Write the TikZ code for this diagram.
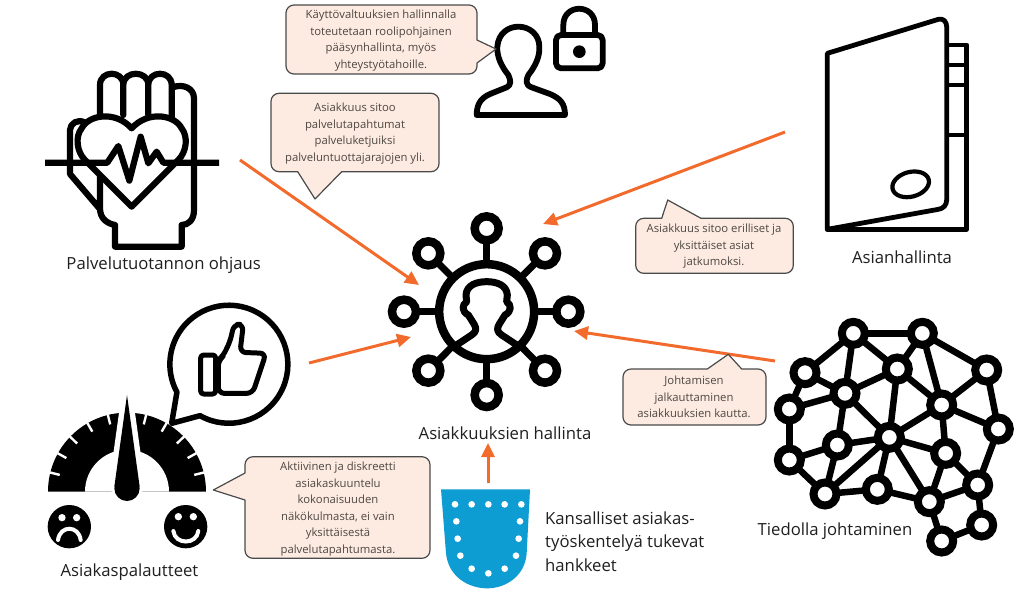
\documentclass[tikz,border=0pt]{standalone}
\usepackage{fontspec}
\setmainfont{Open Sans}
\usetikzlibrary{arrows.meta}
\definecolor{arrowc}{HTML}{F26B2C}
\definecolor{callfill}{HTML}{FDEBE1}
\definecolor{callline}{HTML}{4A4A4A}
\definecolor{calltext}{HTML}{4D4642}
\definecolor{shieldc}{HTML}{0D9DD3}
\tikzset{
  flow/.style={draw=arrowc,line width=3pt,-{Triangle[length=14pt,width=13pt]}},
  callout/.style={draw=callline,fill=callfill,line width=1.2pt,line join=round},
  calltxt/.style={text=calltext,align=center,inner sep=0pt,font=\fontsize{11.3}{16.5}\selectfont},
  label/.style={text=black!88,inner sep=0pt,font=\fontsize{16.7}{23.5}\selectfont},
  icon/.style={draw=black,line join=round,line cap=round},
  hubsat/.style={circle,draw=black,line width=8.5pt,minimum size=24pt,inner sep=0pt,outer sep=0pt},
  hubcore/.style={circle,draw=black,line width=8.5pt,minimum size=95pt,inner sep=0pt,outer sep=0pt},
  spoke/.style={draw=black,line width=7pt},
  netnode/.style={circle,draw=black,fill=white,line width=8pt,minimum size=23pt,inner sep=0pt,outer sep=0pt},
  netedge/.style={draw=black,line width=6.5pt},
}
\begin{document}
\begin{tikzpicture}[x=1pt,y=-1pt]
\useasboundingbox (0,0) rectangle (1024,595);

% hub
\begin{scope}[shift={(370,200)},x=1/3pt,y=-1/3pt]
  \node[hubcore] (hub) at (350,335) {};
  \node[hubsat] (s1) at (350,85) {};
  \node[hubsat] (s2) at (525,160) {};
  \node[hubsat] (s3) at (595,335) {};
  \node[hubsat] (s4) at (525,512) {};
  \node[hubsat] (s5) at (350,585) {};
  \node[hubsat] (s6) at (175,512) {};
  \node[hubsat] (s7) at (102,335) {};
  \node[hubsat] (s8) at (175,160) {};
  \foreach \k in {1,...,8} \draw[spoke] (hub) -- (s\k);
  \draw[icon,line width=7pt] (255,438) -- (305,405) .. controls (320,395) and (320,385) .. (312,372) -- (295,345) .. controls (275,335) and (275,315) .. (290,305) -- (288,285) .. controls (290,255) and (320,245) .. (350,245) .. controls (380,245) and (410,255) .. (412,285) -- (410,305) .. controls (425,315) and (425,335) .. (405,345) -- (388,372) .. controls (380,385) and (380,395) .. (395,405) -- (445,438);
\end{scope}

% hand
\begin{scope}[shift={(20,50)},x=1/3pt,y=-1/3pt]
  \draw[icon,line width=6.2pt]
    (240,205) -- (240,105) .. controls (240,60) and (310,60) .. (310,105) -- (310,195)
    (310,105) .. controls (310,60) and (385,60) .. (385,105) -- (385,195)
    (385,105) .. controls (385,60) and (455,60) .. (455,105) -- (455,210)
    (458,112) .. controls (490,100) and (522,115) .. (522,145) -- (522,480) .. controls (522,510) and (505,525) .. (485,525) -- (485,590) -- (285,590) -- (285,525) .. controls (260,520) and (240,505) .. (240,475) -- (240,380)
    (238,475) -- (150,372) -- (150,240) .. controls (150,220) and (175,205) .. (195,218);
  \filldraw[icon,fill=white,line width=6.2pt] (335,470) -- (195,330) .. controls (170,305) and (165,260) .. (185,235) .. controls (205,195) and (285,180) .. (335,235) .. controls (385,180) and (465,195) .. (485,235) .. controls (505,260) and (500,305) .. (475,330) -- cycle;
  \draw[draw=black,line join=round,line width=6.2pt] (75,338) -- (262,338) -- (295,288) -- (328,392) -- (362,260) -- (385,340) -- (410,305) -- (430,338) -- (597,338);
\end{scope}

% folder
\begin{scope}[shift={(810,10)},x=1/3pt,y=-1/3pt]
  \draw[icon,line width=4.8pt] (415,105) -- (470,105) -- (470,658) -- (52,658)
    (415,165) -- (470,165) (415,225) -- (470,225) (415,375) -- (470,375);
  \draw[icon,line width=4.8pt] (52,658) -- (52,130) -- (385,28) .. controls (400,24) and (410,35) .. (410,50) -- (410,570) .. controls (410,585) and (400,596) .. (385,598) -- cycle;
  \draw[icon,line width=4.2pt,rotate around={15:(302,523)}] (302,523) ellipse [x radius=56,y radius=37];
\end{scope}

% person with lock
\begin{scope}[shift={(270,0)},x=1/3pt,y=-1/3pt]
  \draw[icon,line width=5.8pt] (620,345) -- (885,345) .. controls (885,310) and (870,295) .. (840,282) -- (785,262) .. controls (765,255) and (768,240) .. (775,225) .. controls (795,200) and (810,170) .. (808,140) .. controls (808,105) and (780,80) .. (745,80) .. controls (715,80) and (685,100) .. (682,140) .. controls (680,170) and (695,200) .. (715,225) .. controls (722,240) and (725,255) .. (710,262) -- (665,280) .. controls (640,290) and (620,305) .. (620,345) -- cycle;
  \draw[icon,line width=5.8pt,rounded corners=5pt] (858,105) rectangle (998,205);
  \draw[icon,line width=5.8pt] (880,105) -- (880,75) .. controls (880,10) and (975,10) .. (975,75) -- (975,105);
  \fill[black] (928,155) circle [radius=19];
\end{scope}

% gauge, thumb and smileys
\begin{scope}[shift={(30,295)},x=1/3pt,y=-1/3pt]
  \draw[icon,line width=5.5pt,line join=round] (510,362) arc [start angle=119.3,end angle=-208.3,radius=177] -- (425,385) -- cycle;
  \draw[icon,line width=5pt,rounded corners=3pt] (512,180) rectangle (557,297);
  \draw[icon,line width=5pt,rounded corners=6pt] (565,295) -- (565,195) -- (578,185) -- (600,140) -- (612,88) -- (640,88) -- (630,172) -- (708,175) -- (668,295) -- cycle;
  \fill[black] (54,590) arc [start angle=180,end angle=360,radius=237] -- cycle;
  \fill[white] (165,590) arc [start angle=180,end angle=360,radius=126] -- cycle;
  \foreach \a in {14,29,44,60,76,104,120,136,151,166}
    \draw[white,line width=2.4pt] ([shift={(291,590)}]-\a:238) -- ([shift={(291,590)}]-\a:208);
  \filldraw[draw=white,fill=white,line width=11pt,line join=round] (291,300) -- (329,575) -- (253,575) -- cycle;
  \fill[black] (291,300) -- (329,575) -- (253,575) -- cycle;
  \fill[black] (291,580) circle [radius=38];
  \fill[black] (118,695) circle [radius=65];
  \fill[white] (96,668) circle [radius=11] (140,668) circle [radius=11];
  \draw[white,line width=4pt,line cap=round] (84,735) .. controls (90,690) and (146,690) .. (152,735);
  \fill[black] (467,695) circle [radius=65];
  \fill[white] (445,665) circle [radius=11] (490,665) circle [radius=11];
  \draw[white,line width=4pt,line cap=round] (430,708) .. controls (435,750) and (500,750) .. (505,708);
\end{scope}

% shield
\begin{scope}[shift={(430,470)},x=1/3pt,y=-1/3pt]
  \fill[shieldc] (33,58) -- (300,58) -- (290,250) .. controls (285,320) and (225,355) .. (172,355) .. controls (115,355) and (55,320) .. (48,250) -- cycle;
  \foreach \p/\q in {75/103,125/103,175/103,224/103,274/103,79/154,270/154,83/206,266/206,91/257,258/257,125/296,224/296,175/310}
    \fill[white] (\p,\q) circle [radius=10];
\end{scope}

% network
\begin{scope}[shift={(760,310)},x=1/3pt,y=-1/3pt]
  \foreach \n/\p/\q in {a/280/70,b/487/70,c/135/188,d/412/177,e/680/180,f/255/250,g/545/285,h/88/297,i/715/357,j/388/382,k/232/405,l/557/430,m/88/450,n/653/525,o/352/538,p/195/552,q/508/575,r/665/645,s/545/693}
    \node[netnode] (\n) at (\p,\q) {};
  \foreach \u/\v in {a/b,a/c,a/f,a/d,b/d,b/g,b/e,c/f,c/h,d/f,d/g,d/j,e/g,e/i,f/h,f/k,f/j,g/i,g/j,g/l,h/m,i/n,j/k,j/l,j/p,j/o,j/q,k/m,k/p,l/n,l/q,m/p,n/q,n/r,o/p,o/q,q/s,r/s}
    \draw[netedge] (\u) -- (\v);
\end{scope}

% arrows
\coordinate (a1s) at (240,160); \coordinate (a1e) at (419,285);
\coordinate (a2s) at (785,132); \coordinate (a2e) at (543,224);
\coordinate (a3s) at (309,363); \coordinate (a3e) at (411,337);
\coordinate (a4s) at (775,361); \coordinate (a4e) at (574,331);
\coordinate (a5s) at (488,483); \coordinate (a5e) at (488,443);
\draw[flow] (a1s) -- (a1e);
\draw[flow] (a2s) -- (a2e);
\draw[flow] (a3s) -- (a3e);
\draw[flow] (a4s) -- (a4e);
\draw[flow] (a5s) -- (a5e);

% callouts
\filldraw[callout] (477,63) [rounded corners=8pt] -- (477,74) -- (286,74) -- (286,5) -- (477,5) [sharp corners] -- (477,40) -- (496,49) -- cycle;
\filldraw[callout] (297.7,171.7) [rounded corners=8pt] -- (271,171.7) -- (271,93.3) -- (439,93.3) -- (439,171.7) [sharp corners] -- (341.7,171.7) -- (315,199) -- cycle;
\filldraw[callout] (701,218.3) [rounded corners=8pt] -- (793.3,218.3) -- (793.3,273.3) -- (635.7,273.3) -- (635.7,218.3) [sharp corners] -- (661.7,218.3) -- (667.7,200) -- cycle;
\filldraw[callout] (741.7,369) [rounded corners=8pt] -- (766,369) -- (766,425) -- (623,425) -- (623,369) [sharp corners] -- (707.3,369) -- (728.3,354.3) -- cycle;
\filldraw[callout] (245,500) [rounded corners=8pt] -- (245,558.3) -- (430,558.3) -- (430,456.7) -- (245,456.7) [sharp corners] -- (245,473) -- (213.3,490) -- cycle;

\node[calltxt] (t1) at (381,40.5) {Käyttövaltuuksien hallinnalla\\toteutetaan roolipohjainen\\pääsynhallinta, myös\\yhteystyötahoille.};
\node[calltxt] (t2) at (355,133.5) {Asiakkuus sitoo\\palvelutapahtumat\\palveluketjuiksi\\palveluntuottajarajojen yli.};
\node[calltxt] (t3) at (714,246.5) {Asiakkuus sitoo erilliset ja\\yksittäiset asiat\\jatkumoksi.};
\node[calltxt] (t4) at (694,397) {Johtamisen\\jalkauttaminen\\asiakkuuksien kautta.};
\node[calltxt] (t5) at (338,509) {Aktiivinen ja diskreetti\\asiakaskuuntelu\\kokonaisuuden\\näkökulmasta, ei vain\\yksittäisestä\\palvelutapahtumasta.};

% labels
\node[label] (l1) at (163.7,265) {Palvelutuotannon ohjaus};
\node[label] (l2) at (902,257) {Asianhallinta};
\node[label] (l3) at (505,433) {Asiakkuuksien hallinta};
\node[label] (l4) at (835,531) {Tiedolla johtaminen};
\node[label] (l5) at (129.5,572) {Asiakaspalautteet};
\node[label,align=left,anchor=west] (l6) at (545,541.5) {Kansalliset asiakas-\\työskentelyä tukevat\\hankkeet};
\end{tikzpicture}
\end{document}
